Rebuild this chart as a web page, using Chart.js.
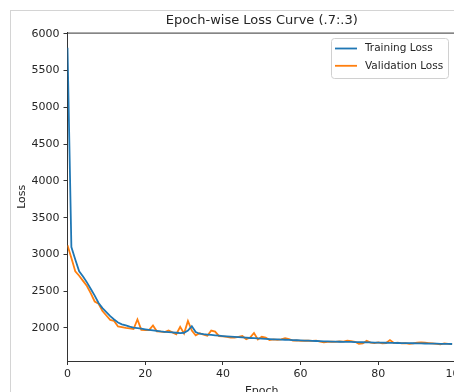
<!DOCTYPE html>
<html>
<head>
<meta charset="utf-8">
<script src="https://cdn.jsdelivr.net/npm/chart.js@4/dist/chart.umd.min.js"></script>
<style>
  html, body { margin: 0; padding: 0; background: #fff; overflow: hidden; }
  #wrap { position: relative; width: 454px; height: 392px; overflow: hidden; }
  #frame { position: absolute; left: 10px; top: 10px; width: 600px; height: 600px;
           border-left: 1px solid #d4d4d4; border-top: 1px solid #d4d4d4; pointer-events: none; }
  canvas { position: absolute; left: 0; top: 0; }
</style>
</head>
<body>
<div id="wrap">
  <canvas id="lossChart" width="480" height="400"></canvas>
  <div id="frame"></div>
</div>
<script>
// values (one per epoch)
const trainLoss = [
  5810, 3100, 2930, 2770, 2700, 2620, 2530, 2440, 2340, 2270,
  2215, 2160, 2115, 2075, 2050, 2035, 2018, 2006, 1998, 1990,
  1982, 1975, 1968, 1960, 1953, 1948, 1944, 1940, 1935, 1930,
  1935, 1965, 2025, 1945, 1922, 1915, 1910, 1905, 1900, 1895,
  1890, 1886, 1882, 1878, 1875, 1871, 1868, 1864, 1861, 1858,
  1855, 1852, 1849, 1846, 1844, 1842, 1840, 1838, 1835, 1833,
  1831, 1829, 1827, 1825, 1823, 1821, 1819, 1817, 1815, 1814,
  1813, 1812, 1811, 1810, 1808, 1807, 1806, 1805, 1804, 1802,
  1801, 1800, 1799, 1798, 1797, 1796, 1795, 1794, 1793, 1792,
  1791, 1790, 1789, 1788, 1787, 1786, 1785, 1784, 1783, 1782
];
const valLoss = [
  3125, 2950, 2770, 2710, 2640, 2570, 2470, 2360, 2330, 2230,
  2170, 2110, 2095, 2020, 2010, 2000, 1995, 1985, 2115, 1975,
  1970, 1972, 2035, 1955, 1950, 1945, 1965, 1940, 1915, 2015,
  1925, 2095, 1965, 1900, 1930, 1910, 1895, 1965, 1950, 1890,
  1885, 1880, 1870, 1870, 1880, 1890, 1848, 1870, 1932, 1845,
  1880, 1870, 1835, 1845, 1838, 1845, 1860, 1850, 1828, 1832,
  1825, 1828, 1826, 1825, 1828, 1815, 1805, 1810, 1815, 1812,
  1818, 1815, 1828, 1820, 1812, 1785, 1790, 1825, 1800, 1795,
  1805, 1790, 1795, 1835, 1795, 1800, 1790, 1795, 1785, 1790,
  1800, 1805, 1800, 1795, 1790, 1785, 1778, 1790, 1785, 1782
];
const epochs = trainLoss.map((_, i) => i);
const xTicks = [0, 20, 40, 60, 80, 100];
const yTicks = [2000, 2500, 3000, 3500, 4000, 4500, 5000, 5500, 6000];

const FONT = 'DejaVu Sans';
const INK = '#262626';

// matplotlib-ish boxed legend in the upper right + top spine
const mplDecor = {
  id: 'mplDecor',
  afterDraw(chart) {
    const ctx = chart.ctx;
    const a = chart.chartArea;
    ctx.save();
    ctx.strokeStyle = '#333';
    ctx.lineWidth = 1;
    ctx.beginPath();
    ctx.moveTo(a.left, a.top + 0.5);
    ctx.lineTo(a.right, a.top + 0.5);
    ctx.stroke();

    const bx = 331.5, by = 38.5, bw = 117, bh = 40;
    ctx.fillStyle = 'rgba(255,255,255,0.85)';
    ctx.strokeStyle = '#d0d0d0';
    ctx.beginPath();
    ctx.roundRect(bx, by, bw, bh, 3);
    ctx.fill();
    ctx.stroke();

    ctx.font = '10.5px ' + FONT;
    ctx.textBaseline = 'middle';
    chart.data.datasets.forEach((ds, i) => {
      const y = 48.5 + i * 17.3;
      ctx.strokeStyle = ds.borderColor;
      ctx.lineWidth = 1.8;
      ctx.beginPath();
      ctx.moveTo(335, y);
      ctx.lineTo(357, y);
      ctx.stroke();
      ctx.fillStyle = INK;
      ctx.fillText(ds.label, 365, y);
    });
    ctx.restore();
  }
};

new Chart(document.getElementById('lossChart'), {
  type: 'line',
  data: {
    datasets: [
      {
        label: 'Training Loss',
        data: trainLoss.map((v, i) => ({ x: epochs[i], y: v })),
        borderColor: '#1f77b4',
        borderWidth: 1.8,
        pointRadius: 0,
        tension: 0
      },
      {
        label: 'Validation Loss',
        data: valLoss.map((v, i) => ({ x: epochs[i], y: v })),
        borderColor: '#ff7f0e',
        borderWidth: 1.8,
        pointRadius: 0,
        tension: 0
      }
    ]
  },
  options: {
    responsive: false,
    animation: false,
    devicePixelRatio: 1,
    layout: { padding: { left: 0, right: 24, top: 0, bottom: 0 } },
    plugins: {
      legend: { display: false },
      tooltip: { enabled: false },
      title: {
        display: true,
        fullSize: false,
        text: 'Epoch-wise Loss Curve (.7:.3)',
        color: INK,
        font: { family: FONT, size: 13, weight: 'normal' },
        padding: { top: 12.5, bottom: 4.5 }
      }
    },
    scales: {
      x: {
        type: 'linear',
        min: 0,
        max: 100,
        afterBuildTicks: s => { s.ticks = xTicks.map(v => ({ value: v })); },
        afterFit: s => { s.height = 39; },
        grid: { display: true, drawOnChartArea: false, tickLength: 4, color: '#333' },
        border: { display: true, color: '#333', width: 1 },
        ticks: { color: INK, font: { family: FONT, size: 11 }, padding: 3, maxRotation: 0,
                 callback: v => String(v) },
        title: {
          display: true, text: 'Epoch', color: INK,
          font: { family: FONT, size: 11 }, padding: { top: 0, bottom: 2.5 }
        }
      },
      y: {
        min: 1551,
        max: 6016,
        afterBuildTicks: s => { s.ticks = yTicks.map(v => ({ value: v })); },
        afterFit: s => { s.width = 67.5; },
        grid: { display: true, drawOnChartArea: false, tickLength: 4, color: '#333' },
        border: { display: true, color: '#333', width: 1 },
        ticks: { color: INK, font: { family: FONT, size: 11 }, padding: 4,
                 callback: v => String(v) },
        title: {
          display: true, text: 'Loss', color: INK,
          font: { family: FONT, size: 11 }, padding: { top: 15.5, bottom: 0 }
        }
      }
    }
  },
  plugins: [mplDecor]
});
</script>
</body>
</html>
